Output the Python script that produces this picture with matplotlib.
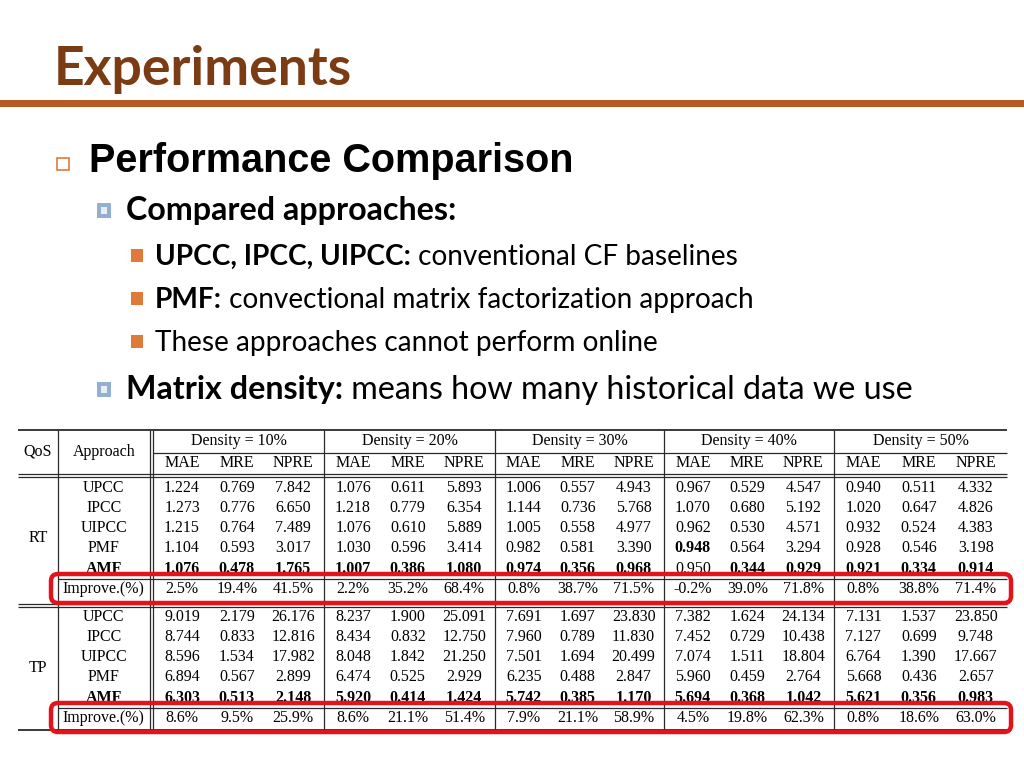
import matplotlib
matplotlib.use("Agg")
import matplotlib.pyplot as plt
from matplotlib.patches import Rectangle, FancyBboxPatch
from matplotlib.transforms import Bbox, TransformedBbox

# ---- slide text ----
title = "Experiments"
heading = "Performance Comparison"
bullets = [
    # (level, bold part, regular part)
    (2, "Compared approaches:", ""),
    (3, "UPCC, IPCC, UIPCC:", " conventional CF baselines"),
    (3, "PMF:", " convectional matrix factorization approach"),
    (3, "", "These approaches cannot perform online"),
    (2, "Matrix density:", " means how many historical data we use"),
]

# ---- table data ----
densities = ["10%", "20%", "30%", "40%", "50%"]
metrics = ["MAE", "MRE", "NPRE"]
approaches = ["UPCC", "IPCC", "UIPCC", "PMF", "AMF"]

rt_values = [
    ["1.224", "0.769", "7.842", "1.076", "0.611", "5.893", "1.006", "0.557", "4.943",
     "0.967", "0.529", "4.547", "0.940", "0.511", "4.332"],
    ["1.273", "0.776", "6.650", "1.218", "0.779", "6.354", "1.144", "0.736", "5.768",
     "1.070", "0.680", "5.192", "1.020", "0.647", "4.826"],
    ["1.215", "0.764", "7.489", "1.076", "0.610", "5.889", "1.005", "0.558", "4.977",
     "0.962", "0.530", "4.571", "0.932", "0.524", "4.383"],
    ["1.104", "0.593", "3.017", "1.030", "0.596", "3.414", "0.982", "0.581", "3.390",
     "0.948", "0.564", "3.294", "0.928", "0.546", "3.198"],
    ["1.076", "0.478", "1.765", "1.007", "0.386", "1.080", "0.974", "0.356", "0.968",
     "0.950", "0.344", "0.929", "0.921", "0.334", "0.914"],
]
rt_improve = ["2.5%", "19.4%", "41.5%", "2.2%", "35.2%", "68.4%", "0.8%", "38.7%", "71.5%",
              "-0.2%", "39.0%", "71.8%", "0.8%", "38.8%", "71.4%"]
rt_bold = [(3, 9), (4, 0), (4, 1), (4, 2), (4, 3), (4, 4), (4, 5), (4, 6), (4, 7), (4, 8),
           (4, 10), (4, 11), (4, 12), (4, 13), (4, 14)]

tp_values = [
    ["9.019", "2.179", "26.176", "8.237", "1.900", "25.091", "7.691", "1.697", "23.830",
     "7.382", "1.624", "24.134", "7.131", "1.537", "23.850"],
    ["8.744", "0.833", "12.816", "8.434", "0.832", "12.750", "7.960", "0.789", "11.830",
     "7.452", "0.729", "10.438", "7.127", "0.699", "9.748"],
    ["8.596", "1.534", "17.982", "8.048", "1.842", "21.250", "7.501", "1.694", "20.499",
     "7.074", "1.511", "18.804", "6.764", "1.390", "17.667"],
    ["6.894", "0.567", "2.899", "6.474", "0.525", "2.929", "6.235", "0.488", "2.847",
     "5.960", "0.459", "2.764", "5.668", "0.436", "2.657"],
    ["6.303", "0.513", "2.148", "5.920", "0.414", "1.424", "5.742", "0.385", "1.170",
     "5.694", "0.368", "1.042", "5.621", "0.356", "0.983"],
]
tp_improve = ["8.6%", "9.5%", "25.9%", "8.6%", "21.1%", "51.4%", "7.9%", "21.1%", "58.9%",
              "4.5%", "19.8%", "62.3%", "0.8%", "18.6%", "63.0%"]
tp_bold = [(4, j) for j in range(15)]

BROWN = "#7b3c14"
BAR = "#b45a22"
ORANGE = "#e07a3a"
BLUE = "#93b0d0"
RED = "#e3131b"
LINE = "#2a2a2a"

fig = plt.figure(figsize=(10.24, 7.68), dpi=100)
ax = fig.add_axes([0, 0, 1, 1])
ax.set_xlim(0, 1024)
ax.set_ylim(768, 0)
ax.axis("off")
renderer = fig.canvas.get_renderer()

# title + bar
ax.text(54, 85, title, fontsize=38.5, fontweight="bold", fontfamily="Lato",
        color=BROWN, va="baseline")
ax.add_patch(Rectangle((0, 100), 1024, 7, color=BAR, lw=0))

# heading with hollow square bullet
ax.add_patch(Rectangle((57, 158), 12, 12, fill=False, edgecolor=ORANGE, lw=1.2))
ax.text(89, 172, heading, fontsize=28.5, fontweight="bold", fontfamily="Liberation Sans",
        va="baseline")

levels = {2: (126, 23.2), 3: (155, 20.2)}
baselines = [220, 265, 308, 351, 399]


def mixed(x, y, bold, regular, size):
    if bold:
        t = ax.text(x, y, bold, fontsize=size, fontweight="bold", fontfamily="Lato",
                    va="baseline")
        bb = t.get_window_extent(renderer)
        x = x + bb.width
    if regular:
        ax.text(x, y, regular, fontsize=size, fontfamily="Lato", va="baseline")


for (lvl, b, r), yb in zip(bullets, baselines):
    x0, size = levels[lvl]
    if lvl == 2:
        ax.add_patch(Rectangle((97, yb - 17), 14, 15, color=BLUE, lw=0))
        ax.add_patch(Rectangle((101, yb - 13), 6, 7, color="#e9eef5", lw=0))
    else:
        ax.add_patch(Rectangle((131, yb - 16), 12, 13, color=ORANGE, lw=0))
    mixed(x0, yb, b, r, size)

# ---- table ----
T_L, T_R = 18, 1007
X_QOS, X_APP = 58, 149.5
group_l = [153, 324, 495, 664, 834, 1007]
col_frac = [0.17, 0.49, 0.82]
tfont = dict(fontfamily="Liberation Serif", fontsize=11.5, ha="center", va="center")


def hline(y, x0=T_L, x1=T_R, lw=0.9):
    ax.plot([x0, x1], [y, y], color=LINE, lw=lw, solid_capstyle="butt")


def vline(x, y0, y1, lw=0.9):
    ax.plot([x, x], [y0, y1], color=LINE, lw=lw, solid_capstyle="butt")


col_x = []
for g in range(5):
    w = group_l[g + 1] - group_l[g]
    for f in col_frac:
        col_x.append(group_l[g] + w * f)

hline(430, lw=1.3)
hline(453, group_l[0], T_R)
hline(473.5)
hline(477)
vline(X_QOS, 430, 730)
vline(X_APP, 430, 730)
vline(X_APP + 3.5, 430, 730)
for g in group_l[1:-1]:
    vline(g, 430, 730)

ax.text((T_L + X_QOS) / 2, 452, "QoS", **tfont)
ax.text((X_QOS + X_APP) / 2, 452, "Approach", **tfont)
for g, d in enumerate(densities):
    ax.text((group_l[g] + group_l[g + 1]) / 2, 441, "Density = " + d, **tfont)
for j, x in enumerate(col_x):
    ax.text(x, 463, metrics[j % 3], **tfont)


def block(name, values, improve, bold, top):
    rows_y = [top + 20 * i for i in range(5)]
    imp_y = top + 101
    # last row is partly hidden under the red highlight box
    clip = TransformedBbox(Bbox([[0, 0], [1024, imp_y - 17.5]]), ax.transData)
    for i, a in enumerate(approaches):
        t = ax.text((X_QOS + X_APP) / 2, rows_y[i] + (1 if i == 4 else 0), a,
                    fontweight="bold" if a == "AMF" else "normal", **tfont)
        if i == 4:
            t.set_clip_box(clip)
        for j, v in enumerate(values[i]):
            t = ax.text(col_x[j], rows_y[i] + (1 if i == 4 else 0), v,
                        fontweight="bold" if (i, j) in bold else "normal", **tfont)
            if i == 4:
                t.set_clip_box(clip)
    hline(imp_y - 10.5, X_QOS, T_R)
    ax.text((X_QOS + X_APP) / 2, imp_y, "Improve.(%)", **tfont)
    for j, v in enumerate(improve):
        ax.text(col_x[j], imp_y, v, **tfont)
    ax.text((T_L + X_QOS) / 2, (rows_y[0] + imp_y) / 2, name, **tfont)
    ax.add_patch(FancyBboxPatch((51, imp_y - 15), 960, 29,
                                boxstyle="round,pad=0,rounding_size=7",
                                fill=False, edgecolor=RED, lw=3.2, zorder=5))


block("RT", rt_values, rt_improve, rt_bold, 488)
hline(603.5)
hline(607)
block("TP", tp_values, tp_improve, tp_bold, 617)
hline(730, lw=1.3)

fig.savefig("out.png", dpi=100)
